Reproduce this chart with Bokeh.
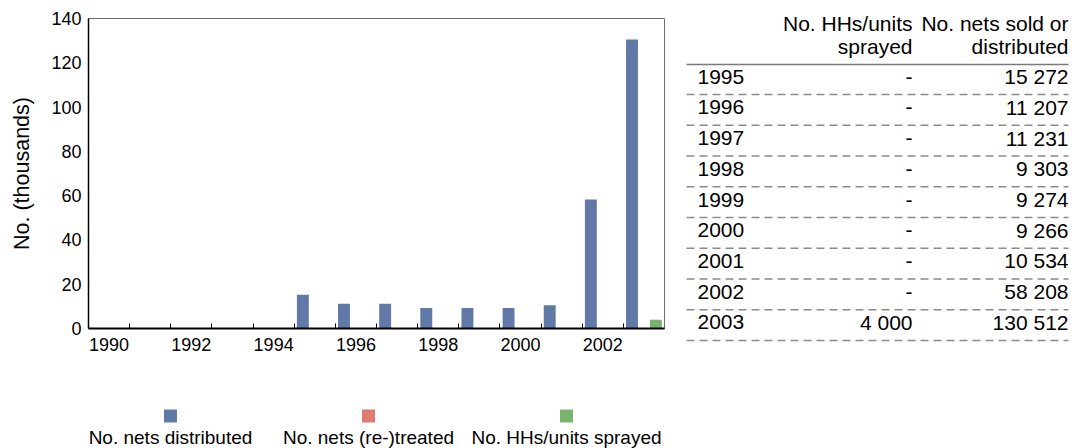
from bokeh.plotting import figure
from bokeh.layouts import row, column
from bokeh.models import Range1d, FixedTicker, ColumnDataSource
from bokeh.transform import dodge
from bokeh.core.properties import value
from bokeh.embed import file_html
from bokeh.resources import INLINE

# ---------------- data ----------------
chart_years = list(range(1990, 2004))
table_years = [1995, 1996, 1997, 1998, 1999, 2000, 2001, 2002, 2003]
nets_sold = [15272, 11207, 11231, 9303, 9274, 9266, 10534, 58208, 130512]
nets_treated = [None, None, None, None, None, None, None, None, None]
hhs_sprayed = [None, None, None, None, None, None, None, None, 4000]
y_ticks = [0, 20, 40, 60, 80, 100, 120, 140]
x_tick_labels = [1990, 1992, 1994, 1996, 1998, 2000, 2002]
series_names = ["No. nets distributed", "No. nets (re-)treated", "No. HHs/units sprayed"]
series_colors = ["#6079A6", "#E07B72", "#79B46F"]
header_sprayed = ["No. HHs/units", "sprayed"]
header_nets = ["No. nets sold or", "distributed"]

FONT = value("Liberation Sans")

# ---------------- chart ----------------
src = ColumnDataSource(dict(
    year=table_years,
    nets=[v / 1000 for v in nets_sold],
    treated=[(v or 0) / 1000 for v in nets_treated],
    sprayed=[(v or 0) / 1000 for v in hhs_sprayed],
))

p = figure(width=672, height=360, output_backend="svg", toolbar_location=None,
           x_range=Range1d(chart_years[0] - 0.5, chart_years[-1] + 0.5),
           y_range=Range1d(y_ticks[0], y_ticks[-1]),
           min_border_left=88, min_border_right=8, min_border_top=18, min_border_bottom=32)
p.xgrid.visible = False
p.ygrid.visible = False
p.outline_line_color = "#6e6e6e"
p.outline_line_width = 1

bw = 0.29
for field, off, col in zip(["nets", "treated", "sprayed"], [-0.29, 0.0, 0.29], series_colors):
    p.vbar(x=dodge("year", off, range=p.x_range), top=field, width=bw, bottom=0,
           source=src, fill_color=col, line_color=None)

p.xaxis.ticker = FixedTicker(ticks=x_tick_labels,
                             minor_ticks=[y + 0.5 for y in chart_years[:-1]])
p.xaxis.major_tick_in = 0
p.xaxis.major_tick_out = 0
p.xaxis.minor_tick_in = 5
p.xaxis.minor_tick_out = 0
p.xaxis.minor_tick_line_color = "black"
p.xaxis.axis_line_color = "black"
p.xaxis.axis_line_width = 2
p.xaxis.major_label_standoff = 9

p.yaxis.ticker = FixedTicker(ticks=y_ticks)
p.yaxis.major_tick_in = 0
p.yaxis.major_tick_out = 0
p.yaxis.minor_tick_line_color = None
p.yaxis.axis_line_color = "black"
p.yaxis.axis_line_width = 1.5
p.yaxis.major_label_standoff = 7
p.yaxis.axis_label = "No. (thousands)"
p.yaxis.axis_label_standoff = 14
p.yaxis.axis_label_text_font_style = "normal"

for ax in (p.xaxis[0], p.yaxis[0]):
    ax.major_label_text_font = "Liberation Sans"
    ax.major_label_text_font_size = "18px"
    ax.major_label_text_color = "black"
    ax.axis_label_text_font = "Liberation Sans"
    ax.axis_label_text_font_size = "21.5px"
    ax.axis_label_text_color = "black"

# ---------------- legend (below chart) ----------------
lg = figure(width=672, height=88, output_backend="svg", toolbar_location=None,
            x_range=Range1d(-0.414, 2.495), y_range=Range1d(88, 0),
            min_border_left=88, min_border_right=8, min_border_top=0, min_border_bottom=0)
lg.axis.visible = False
lg.grid.visible = False
lg.outline_line_color = None
lsrc = ColumnDataSource(dict(i=list(range(len(series_names))), name=series_names, color=series_colors))
lg.rect(x="i", y=55.5, width=13, height=13, width_units="screen", height_units="screen",
        fill_color="color", line_color=None, source=lsrc)
lg.text(x="i", y=77, text="name", source=lsrc, text_align="center", text_baseline="middle",
        text_font=FONT, text_font_size=value("19px"), text_color="black")

# ---------------- table ----------------
n = len(table_years)
tb = figure(width=400, height=448, output_backend="svg", toolbar_location=None,
            x_range=Range1d(0, 400), y_range=Range1d(12.098, -2.472), min_border=0)
tb.axis.visible = False
tb.grid.visible = False
tb.outline_line_color = None

tsrc = ColumnDataSource(dict(
    r=list(range(n)),
    year=[str(y) for y in table_years],
    spr=["-" if v is None else f"{v:,}".replace(",", " ") for v in hhs_sprayed],
    nets=[f"{v:,}".replace(",", " ") for v in nets_sold],
))
tfs = value("21px")
tb.text(x=25, y="r", text="year", source=tsrc, text_align="left", text_baseline="middle",
        text_font=FONT, text_font_size=tfs, text_color="black")
tb.text(x=240, y="r", text="spr", source=tsrc, text_align="right", text_baseline="middle",
        text_font=FONT, text_font_size=tfs, text_color="black")
tb.text(x=396, y="r", text="nets", source=tsrc, text_align="right", text_baseline="middle",
        text_font=FONT, text_font_size=tfs, text_color="black")

hsrc = ColumnDataSource(dict(y=[-1.74, -0.98], a=header_sprayed, b=header_nets))
tb.text(x=240, y="y", text="a", source=hsrc, text_align="right", text_baseline="middle",
        text_font=FONT, text_font_size=tfs, text_color="black")
tb.text(x=396, y="y", text="b", source=hsrc, text_align="right", text_baseline="middle",
        text_font=FONT, text_font_size=tfs, text_color="black")

tb.segment(x0=14, x1=396, y0=-0.39, y1=-0.39, line_color="#7a7a7a", line_width=1.5)
dsrc = ColumnDataSource(dict(y=[r + 0.585 for r in range(n)]))
tb.segment(x0=14, x1=396, y0="y", y1="y", source=dsrc, line_color="#8a8a8a",
           line_width=1.3, line_dash="8 5")

layout = row(column(p, lg), tb)
open("out.html", "w").write(file_html(layout, INLINE))
